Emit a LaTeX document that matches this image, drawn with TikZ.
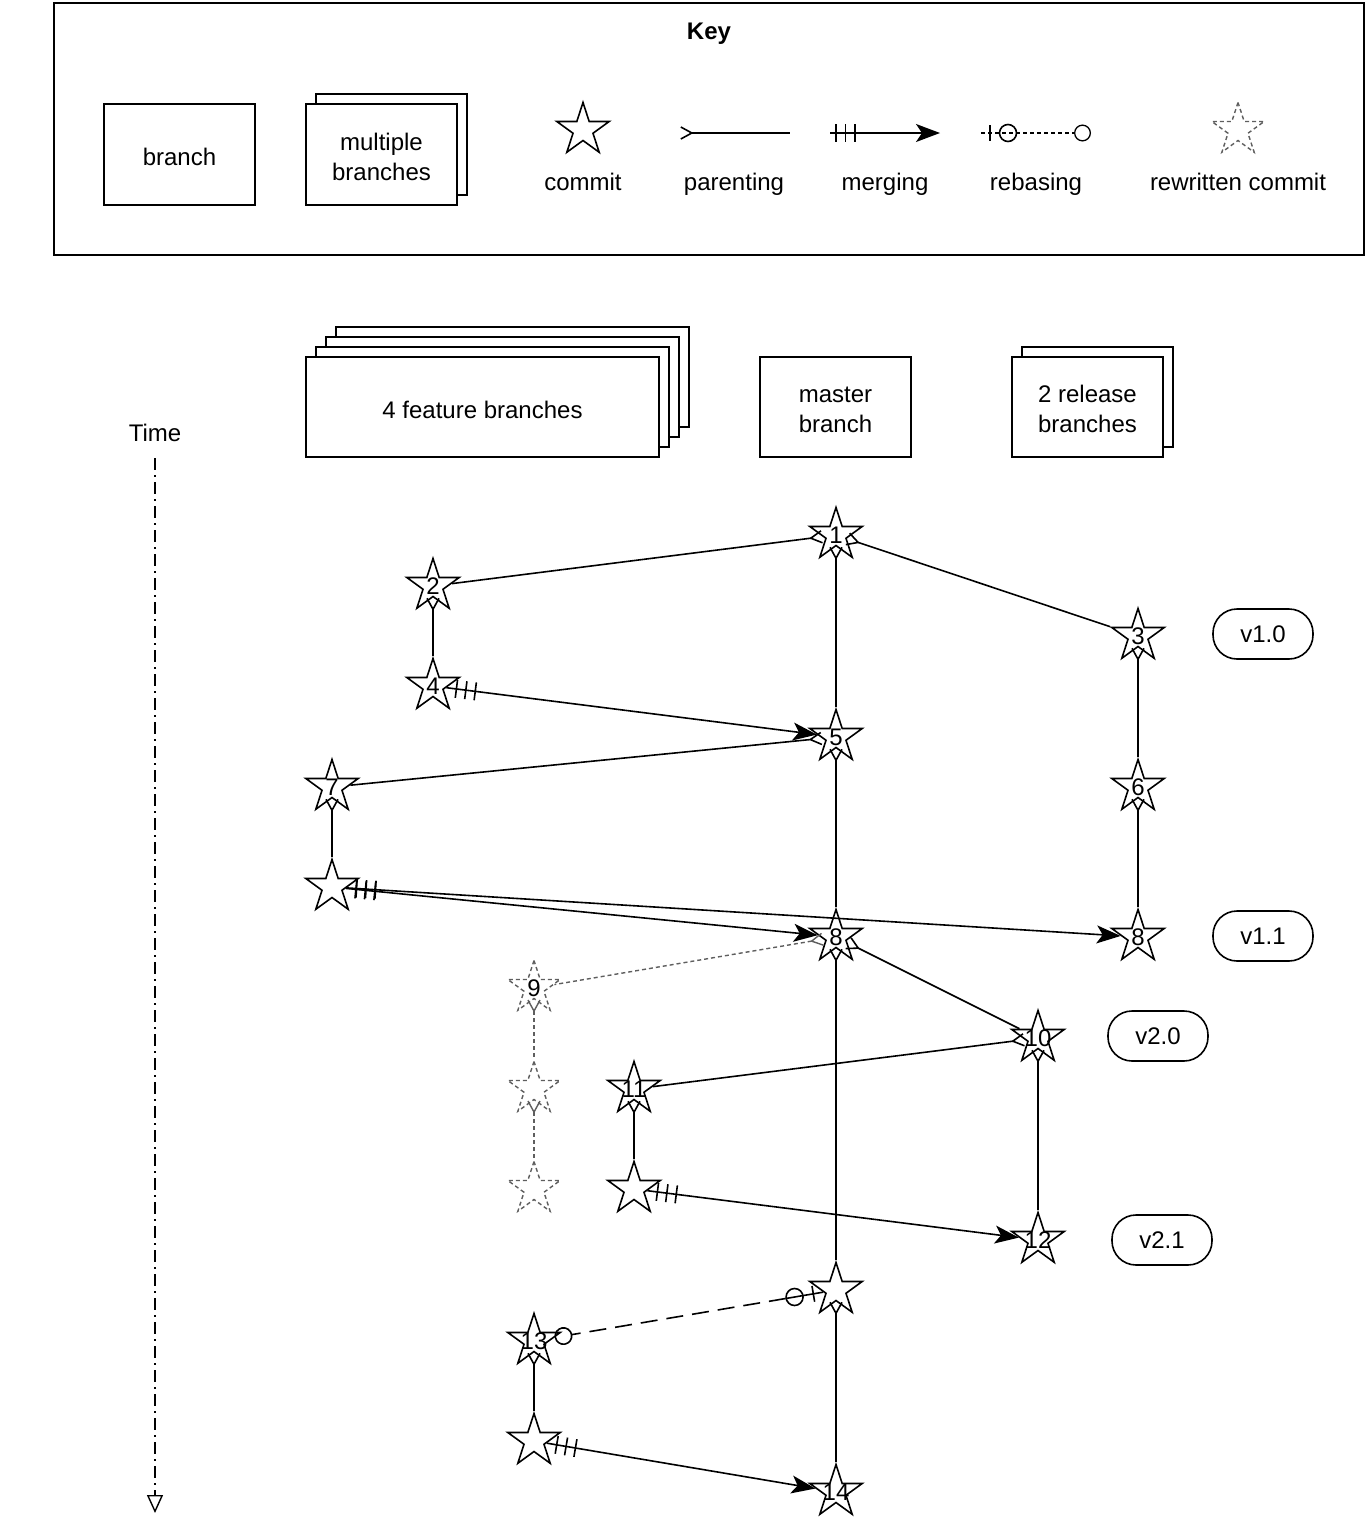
\documentclass[tikz,border=0pt]{standalone}
\usepackage{fontspec}
\setmainfont{Liberation Sans}
\usetikzlibrary{shapes.geometric,arrows.meta,calc}
\definecolor{ghostgrey}{HTML}{5E5E5E}
% three cross ticks at the source end of a merge connector:
% #1 source node, #2 target node, #3 distance of the first tick from the source border
\newcommand\mergeticks[3]{%
  \path (#1) -- (#2) coordinate[pos=0] (tickA) coordinate[pos=1] (tickB);
  \foreach \d in {0,9.5,19}{%
    \pgfmathsetmacro\tickoff{#3+\d}
    \coordinate (tickC) at ($(tickA)!\tickoff pt!(tickB)$);
    \draw ($(tickC)!9pt!90:(tickB)$) -- ($(tickC)!9pt!-90:(tickB)$);
  }%
}
\begin{document}
\begin{tikzpicture}[x=1pt,y=-1pt,
  line width=1.6pt,
  every node/.style={font=\fontsize{24}{30}\selectfont},
  commit/.style={draw, fill=white, star, star points=5, star point ratio=2.618,
    minimum size=55pt, inner sep=0pt},
  ghostcommit/.style={commit, draw=ghostgrey, dash pattern=on 4pt off 3pt, line width=1.4pt},
  branchbox/.style={draw, fill=white, minimum width=151pt, minimum height=101pt},
  widebox/.style={draw, fill=white, minimum width=353pt, minimum height=100pt},
  tagbox/.style={draw, rounded corners=24pt, minimum width=100pt, minimum height=50pt},
  keylabel/.style={anchor=base},
  parent/.style={{Straight Barb[reversed,length=11pt,width=12pt]}-},
  mergeline/.style={-{Stealth[length=24pt,width=18pt,inset=6pt]}},
  ring/.style={circle, draw, solid, minimum size=17pt, inner sep=0pt},
  ghostlink/.style={draw=ghostgrey, dash pattern=on 4pt off 3pt, line width=1.4pt},
  timeaxis/.style={line width=1.4pt, dash pattern=on 12pt off 5pt on 2pt off 5pt,
    -{Triangle[open,length=18pt,width=16pt]}},
]
\useasboundingbox (0,0) rectangle (1367,1518);

% ---------- key ----------
\node[draw, minimum width=1310pt, minimum height=252pt] (keyframe) at (709,129) {};
\node[font=\bfseries\fontsize{24}{30}\selectfont] (keytitle) at (709,34) {Key};

\node[branchbox] (kbranch) at (179.5,154.5) {};
\node[keylabel] (kbranchtext) at (179.5,165.8) {branch};
\node[branchbox] (kmultiback) at (391.5,144.5) {};
\node[branchbox] (kmulti) at (381.5,154.5) {};
\node[align=center] (kmultitext) at (381.5,156.5) {multiple\\branches};

\node[commit] (kcommit) at (583,130) {};
\node[keylabel] (lcommit) at (583,190.7) {commit};

\coordinate (pa) at (680,133);
\coordinate (pb) at (790,133);
\draw[parent] (pa) -- (pb);
\node[keylabel] (lparent) at (734,190.7) {parenting};

\coordinate (ma) at (830,133);
\coordinate (mb) at (940,133);
\draw[mergeline] (ma) -- (mb);
\mergeticks{ma}{mb}{6}
\node[keylabel] (lmerge) at (885,190.7) {merging};

% rebasing sample: bar and ring near the start, ring at the end
\coordinate (ra) at (981,133);
\coordinate (rb) at (1091,133);
\draw[line width=1.3pt, dash pattern=on 4pt off 3pt,
  -{Circle[open,length=17pt,width=17pt]}] (ra) -- (rb);
\coordinate (rabar) at ($(ra)!9pt!(rb)$);
\draw ($(rabar)!8pt!90:(rb)$) -- ($(rabar)!8pt!-90:(rb)$);
\node[ring] (raring) at ($(ra)!27pt!(rb)$) {};
\node[keylabel] (lrebase) at (1036,190.7) {rebasing};

\node[ghostcommit] (kghost) at (1238,130) {};
\node[keylabel] (lghost) at (1238,190.7) {rewritten commit};

% ---------- branch headers ----------
\node[widebox] (feat4) at (512.5,377) {};
\node[widebox] (feat3) at (502.5,387) {};
\node[widebox] (feat2) at (492.5,397) {};
\node[widebox] (feat1) at (482.5,407) {};
\node (feattext) at (482.5,410) {4 feature branches};

\node[branchbox, minimum height=100pt] (master) at (835.5,407) {};
\node[align=center] (mastertext) at (835.5,410) {master\\branch};

\node[branchbox, minimum height=100pt] (rel2) at (1097.5,397) {};
\node[branchbox, minimum height=100pt] (rel1) at (1087.5,407) {};
\node[align=center] (reltext) at (1087.5,409) {2 release\\branches};

% ---------- time axis ----------
\node (timelabel) at (155,433) {Time};
\coordinate (t0) at (155,458);
\coordinate (t1) at (155,1513);
\draw[timeaxis] (t0) -- (t1);

% ---------- commits ----------
\node[commit, label=center:1] (c1) at (836,535) {};
\node[commit, label=center:2] (c2) at (433,586) {};
\node[commit, label=center:3] (c3) at (1138,636) {};
\node[commit, label=center:4] (c4) at (433,686) {};
\node[commit, label=center:5] (c5) at (836,737) {};
\node[commit, label=center:6] (c6) at (1138,787) {};
\node[commit, label=center:7] (c7) at (332,787) {};
\node[commit] (c7b) at (332,887) {};
\node[commit, label=center:8] (c8) at (836,937) {};
\node[commit, label=center:8] (c8r) at (1138,937) {};
\node[ghostcommit, label=center:9] (c9) at (534,988) {};
\node[ghostcommit] (g2) at (534,1089) {};
\node[ghostcommit] (g3) at (534,1189) {};
\node[commit, label=center:10] (c10) at (1038,1038) {};
\node[commit, label=center:11] (c11) at (634,1089) {};
\node[commit] (c11b) at (634,1189) {};
\node[commit, label=center:12] (c12) at (1038,1240) {};
\node[commit] (cm) at (836,1290) {};
\node[commit, label=center:13] (c13) at (534,1341) {};
\node[commit] (c13b) at (534,1441) {};
\node[commit, label=center:14] (c14) at (836,1492) {};

% ---------- version tags ----------
\node[tagbox] (v10) at (1263,634) {v1.0};
\node[tagbox] (v11) at (1263,936) {v1.1};
\node[tagbox] (v20) at (1158,1036) {v2.0};
\node[tagbox] (v21) at (1162,1240) {v2.1};

% ---------- history ----------
\draw[parent] (c1) -- (c2);
\draw[parent] (c1) -- (c3);
\draw[parent] (c1) -- (c5);
\draw[parent] (c2) -- (c4);
\draw[parent] (c3) -- (c6);
\draw[mergeline] (c4) -- (c5);
\mergeticks{c4}{c5}{10}
\draw[parent] (c5) -- (c7);
\draw[parent] (c5) -- (c8);
\draw[parent] (c6) -- (c8r);
\draw[parent] (c7) -- (c7b);
\draw[mergeline] (c7b) -- (c8);
\mergeticks{c7b}{c8}{10}
\draw[mergeline] (c7b) -- (c8r);
\mergeticks{c7b}{c8r}{10}
\draw[parent, ghostlink] (c8) -- (c9);
\draw[parent] (c8) -- (c10);
\draw[parent] (c8) -- (cm);
\draw[parent, ghostlink] (c9) -- (g2);
\draw[parent, ghostlink] (g2) -- (g3);
\draw[parent] (c10) -- (c11);
\draw[parent] (c10) -- (c12);
\draw[parent] (c11) -- (c11b);
\draw[mergeline] (c11b) -- (c12);
\mergeticks{c11b}{c12}{10}
\draw[parent] (cm) -- (c14);
\draw[parent] (c13) -- (c13b);
\draw[mergeline] (c13b) -- (c14);
\mergeticks{c13b}{c14}{10}

% rebase of 13 onto the master commit: solid lead-in with bar and ring, dashed run, ring at 13
\path (cm) -- (c13) coordinate[pos=0] (rbstart) coordinate[pos=1] (rbend);
\coordinate (rbbar) at ($(rbstart)!10pt!(rbend)$);
\coordinate (rbsplit) at ($(rbstart)!38pt!(rbend)$);
\draw (rbstart) -- (rbsplit);
\draw[dash pattern=on 17pt off 9pt, -{Circle[open,length=18pt,width=18pt]}] (rbsplit) -- (rbend);
\draw ($(rbbar)!8pt!90:(rbend)$) -- ($(rbbar)!8pt!-90:(rbend)$);
\node[ring] (rbring) at ($(rbstart)!29pt!(rbend)$) {};
\end{tikzpicture}
\end{document}
